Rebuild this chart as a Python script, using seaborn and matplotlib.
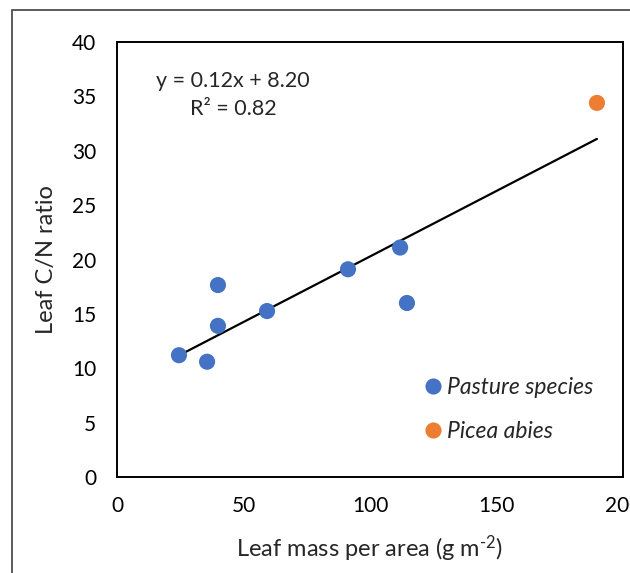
import matplotlib
matplotlib.use("Agg")
import matplotlib.pyplot as plt
import seaborn as sns
import pandas as pd
import numpy as np
from matplotlib.patches import Rectangle

# Data
pasture_lma = [24.5, 35.6, 39.9, 39.9, 59.3, 91.3, 111.9, 114.6]
pasture_cn = [11.2, 10.6, 17.65, 13.9, 15.26, 19.1, 21.1, 16.0]
picea_lma = [189.7]
picea_cn = [34.4]
groups = ["Pasture species", "Picea abies"]
equation_text = "y = 0.12x + 8.20"
r2_text = "R² = 0.82"
x_ticks = [0, 50, 100, 150, 200]
y_ticks = [0, 5, 10, 15, 20, 25, 30, 35, 40]

df = pd.DataFrame({
    "LMA": pasture_lma + picea_lma,
    "CN": pasture_cn + picea_cn,
    "group": [groups[0]] * len(pasture_lma) + [groups[1]] * len(picea_lma),
})

sns.set_theme(style="white")
plt.rcParams["font.family"] = ["Lato", "DejaVu Sans"]
plt.rcParams["mathtext.fontset"] = "custom"
plt.rcParams["mathtext.rm"] = "Lato"
plt.rcParams["mathtext.it"] = "Lato:italic"
plt.rcParams["mathtext.default"] = "rm"

W, H = 630, 573
fig = plt.figure(figsize=(W / 100, H / 100), dpi=100)
ax = fig.add_axes([117 / W, 1 - 477 / H, (623 - 117) / W, (477 - 42) / H])

palette = {groups[0]: "#4472C4", groups[1]: "#ED7D31"}

sns.regplot(data=df, x="LMA", y="CN", scatter=False, ci=None, truncate=True,
            line_kws=dict(color="black", lw=1.6), ax=ax)
sns.scatterplot(data=df, x="LMA", y="CN", hue="group", palette=palette,
                s=135, edgecolor="none", ax=ax, zorder=3)

ax.set_xlim(0, 200)
ax.set_ylim(0, 40)
ax.set_xticks(x_ticks)
ax.set_yticks(y_ticks)
ax.set_xticklabels([str(t) for t in x_ticks], fontsize=15)
ax.set_yticklabels([str(t) for t in y_ticks], fontsize=15)
ax.tick_params(axis="x", direction="in", length=5, width=1.3, pad=14, colors="black")
ax.tick_params(axis="y", direction="out", length=5, width=1.3, pad=10, colors="black")

for s in ax.spines.values():
    s.set_visible(True)
    s.set_color("black")
    s.set_linewidth(1.4)

ax.set_xlabel(r"Leaf mass per area (g m$^{\text{-2}}$)", fontsize=17)
ax.set_ylabel("Leaf C/N ratio", fontsize=17)
ax.xaxis.set_label_coords(0.5, -0.13)
ax.yaxis.set_label_coords(-0.118, 0.5)

ax.text(0.229, 0.91, equation_text, transform=ax.transAxes, ha="center", va="center", fontsize=15.5)
ax.text(0.229, 0.846, r2_text, transform=ax.transAxes, ha="center", va="center", fontsize=15.5)

leg = ax.legend(loc="center left", bbox_to_anchor=(0.602, 0.156), frameon=False,
                prop=dict(style="italic", size=16.5), handletextpad=0.1,
                handlelength=1.0, labelspacing=1.0, borderpad=0, borderaxespad=0)

# Outer chart-area border
fig.patches.append(Rectangle((12 / W, -0.1), 1.2, 1 - 10 / H + 0.1,
                             transform=fig.transFigure, fill=False,
                             edgecolor="#404040", lw=1.2, clip_on=False))

fig.savefig("out.png", dpi=100)
